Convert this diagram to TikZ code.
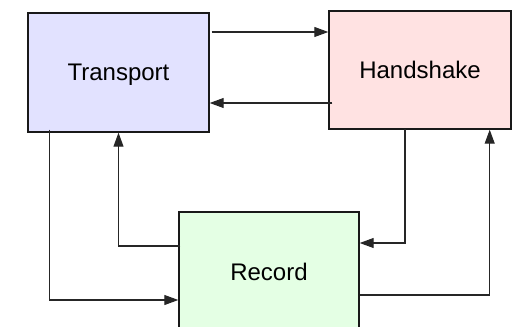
\documentclass[tikz,border=0pt]{standalone}
\usepackage{fontspec}
\setmainfont{Liberation Sans}
\usetikzlibrary{arrows.meta}
\definecolor{tpfill}{HTML}{E2E2FF}
\definecolor{hsfill}{HTML}{FFE2E2}
\definecolor{rcfill}{HTML}{E4FFE4}
\tikzset{
  layer/.style={draw=black!90, line width=1.4pt, inner sep=0pt,
    minimum width=181pt, minimum height=119pt, text depth=0pt,
    font=\fontsize{24}{28}\selectfont},
  link/.style={draw=black!85, line width=1.1pt,
    -{Triangle[length=14pt,width=10pt]}}
}
\begin{document}
\begin{tikzpicture}[x=1pt,y=-1pt]
  \useasboundingbox (0,0) rectangle (521,326);
  \clip (0,0) rectangle (521,326);
  % protocol layers
  \node[layer, fill=tpfill] (T) at (118.5,72.5) {Transport};
  \node[layer, fill=hsfill, minimum width=182pt, minimum height=118pt] (H) at (420,70) {Handshake};
  \node[layer, fill=rcfill, minimum width=180pt, minimum height=120pt] (R) at (269,272) {Record};
  % Transport <-> Handshake
  \draw[link] ([xshift=2pt,yshift=40.5pt]T.east) coordinate (a1) -- (a1 -| H.west);
  \draw[link] ([xshift=4pt,yshift=-33pt]H.west) coordinate (a2) -- (a2 -| T.east);
  % Transport <-> Record
  \draw[link] ([xshift=22pt,yshift=3pt]T.south west) |- ([yshift=-28pt]R.west);
  \draw[link] ([xshift=2pt,yshift=26pt]R.west) -| (T.south);
  % Handshake <-> Record
  \draw[link] ([xshift=-15pt,yshift=1pt]H.south) |- ([yshift=29pt]R.east);
  \draw[link] ([yshift=-23pt]R.east) -| ([xshift=-22pt]H.south east);
\end{tikzpicture}
\end{document}
